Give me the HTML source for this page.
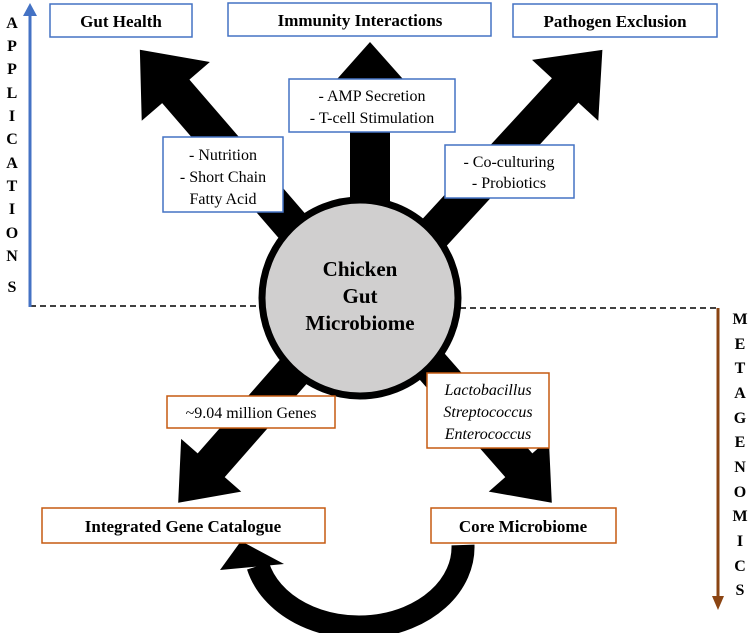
<!DOCTYPE html>
<html><head><meta charset="utf-8"><style>
html,body{margin:0;padding:0;background:#fff;}
svg{display:block;}
text{font-family:"Liberation Serif",serif;}
</style></head><body>
<svg width="750" height="633" viewBox="0 0 750 633" xmlns="http://www.w3.org/2000/svg">
<!-- dashed line -->
<line x1="30" y1="306" x2="300" y2="306" stroke="#000" stroke-width="1.5" stroke-dasharray="6,4"/>
<line x1="420" y1="308" x2="718" y2="308" stroke="#000" stroke-width="1.5" stroke-dasharray="6,4"/>
<!-- blue axis -->
<line x1="30" y1="307" x2="30" y2="12" stroke="#4472c4" stroke-width="3"/>
<polygon points="30,3 23,16 37,16" fill="#4472c4"/>
<!-- brown axis -->
<line x1="718" y1="308" x2="718" y2="598" stroke="#8b4513" stroke-width="3"/>
<polygon points="718,610 712,596 724,596" fill="#8b4513"/>
<g font-weight="bold" font-size="16" text-anchor="middle">
<text x="12" y="28">A</text><text x="12" y="51">P</text><text x="12" y="74">P</text><text x="12" y="98">L</text><text x="12" y="121">I</text><text x="12" y="144">C</text><text x="12" y="168">A</text><text x="12" y="191">T</text><text x="12" y="214">I</text><text x="12" y="238">O</text><text x="12" y="261">N</text><text x="12" y="292">S</text>
<text x="740" y="324">M</text><text x="740" y="349">E</text><text x="740" y="373">T</text><text x="740" y="398">A</text><text x="740" y="423">G</text><text x="740" y="447">E</text><text x="740" y="472">N</text><text x="740" y="497">O</text><text x="740" y="521">M</text><text x="740" y="546">I</text><text x="740" y="571">C</text><text x="740" y="595">S</text>
</g>
<!-- arrows -->
<g fill="#000">
<polygon transform="translate(330,270) rotate(-130.8)" points="0,-18 236,-18 236,-45 291,0 236,45 236,18 0,18"/>
<polygon transform="translate(370,260) rotate(-90)" points="0,-20 173,-20 173,-40 218,0 173,40 173,20 0,20"/>
<polygon transform="translate(400,270) rotate(-47.4)" points="0,-18 244,-18 244,-45 299,0 244,45 244,18 0,18"/>
<polygon transform="translate(330,330) rotate(131.3)" points="0,-18 180,-18 180,-40 230,0 180,40 180,18 0,18"/>
<polygon transform="translate(400,330) rotate(48.7)" points="0,-18 180,-18 180,-40 230,0 180,40 180,18 0,18"/>
<path d="M 463 545 A 104 80 0 0 1 258 566" fill="none" stroke="#000" stroke-width="23"/>
<polygon points="241,541 220,570 284,564"/>
</g>
<!-- circle -->
<circle cx="360" cy="298" r="98" fill="#d0cfcf" stroke="#000" stroke-width="7"/>
<g font-weight="bold" font-size="21" text-anchor="middle">
<text x="360" y="276">Chicken</text><text x="360" y="303">Gut</text><text x="360" y="330">Microbiome</text>
</g>
<!-- blue boxes -->
<g fill="#fff" stroke="#4472c4" stroke-width="1.5">
<rect x="50" y="4" width="142" height="33"/>
<rect x="228" y="3" width="263" height="33"/>
<rect x="513" y="4" width="204" height="33"/>
<rect x="289" y="79" width="166" height="53"/>
<rect x="163" y="137" width="120" height="75"/>
<rect x="445" y="145" width="129" height="53"/>
</g>
<g font-size="16" text-anchor="middle">
<text x="121" y="27" font-weight="bold" font-size="17">Gut Health</text>
<text x="360" y="26" font-weight="bold" font-size="17">Immunity Interactions</text>
<text x="615" y="27" font-weight="bold" font-size="17">Pathogen Exclusion</text>
<text x="372" y="101">- AMP Secretion</text><text x="372" y="123">- T-cell Stimulation</text>
<text x="223" y="160">- Nutrition</text><text x="223" y="182">- Short Chain</text><text x="223" y="204">Fatty Acid</text>
<text x="509" y="167">- Co-culturing</text><text x="509" y="188">- Probiotics</text>
</g>
<!-- brown boxes -->
<g fill="#fff" stroke="#c55a11" stroke-width="1.5">
<rect x="167" y="396" width="168" height="32"/>
<rect x="427" y="373" width="122" height="75"/>
<rect x="42" y="508" width="283" height="35"/>
<rect x="431" y="508" width="185" height="35"/>
</g>
<g font-size="16" text-anchor="middle">
<text x="251" y="418">~9.04 million Genes</text>
<text x="488" y="395" font-style="italic">Lactobacillus</text>
<text x="488" y="417" font-style="italic">Streptococcus</text>
<text x="488" y="439" font-style="italic">Enterococcus</text>
<text x="183" y="532" font-weight="bold" font-size="17">Integrated Gene Catalogue</text>
<text x="523" y="532" font-weight="bold" font-size="17">Core Microbiome</text>
</g>
</svg>
</body></html>
